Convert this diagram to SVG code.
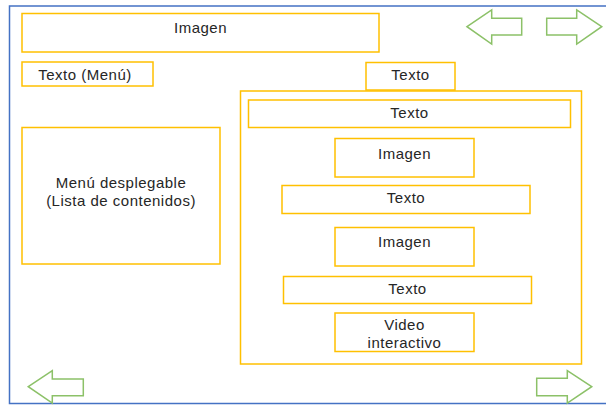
<svg xmlns="http://www.w3.org/2000/svg" width="606" height="405" viewBox="0 0 606 405">
  <style>
    .box { fill: #ffffff; stroke: #FFC000; stroke-width: 1.5; }
    .nav { fill: #ffffff; stroke: #8CC168; stroke-width: 1.5; stroke-linejoin: miter; }
    .lbl { font-family: "Liberation Sans", Arial, sans-serif; font-size: 15px; letter-spacing: 0.5px; fill: #262626; text-anchor: middle; dominant-baseline: central; }
  </style>
  <!-- page frame -->
  <rect x="0" y="0" width="606" height="405" fill="#ffffff"/>
  <rect x="9.5" y="6" width="610" height="397.5" fill="none" stroke="#4472C4" stroke-width="1.5"/>

  <g id="header-image">
    <rect class="box" x="22" y="13.5" width="357" height="38.5"/>
    <text class="lbl" x="200.5" y="27">Imagen</text>
  </g>
  <g id="menu-text">
    <rect class="box" x="22" y="62" width="131" height="24"/>
    <text class="lbl" x="85" y="74">Texto (Menú)</text>
  </g>
  <g id="title-text">
    <rect class="box" x="366" y="62.5" width="89" height="27.5"/>
    <text class="lbl" x="410.5" y="74.5">Texto</text>
  </g>
  <g id="dropdown-menu">
    <rect class="box" x="22" y="127.5" width="198" height="136.5"/>
    <text class="lbl" x="121" y="182">Menú desplegable</text>
    <text class="lbl" x="121" y="200">(Lista de contenidos)</text>
  </g>
  <g id="content-panel">
    <rect class="box" x="240.5" y="91" width="341" height="273"/>
  </g>
  <g id="text-1">
    <rect class="box" x="248.5" y="100" width="322" height="27.5"/>
    <text class="lbl" x="409.5" y="112">Texto</text>
  </g>
  <g id="image-1">
    <rect class="box" x="335" y="138.5" width="139" height="38.5"/>
    <text class="lbl" x="404.5" y="153">Imagen</text>
  </g>
  <g id="text-2">
    <rect class="box" x="282" y="185.5" width="248" height="28"/>
    <text class="lbl" x="406" y="197.5">Texto</text>
  </g>
  <g id="image-2">
    <rect class="box" x="335" y="227.5" width="139" height="38.5"/>
    <text class="lbl" x="404.5" y="241.5">Imagen</text>
  </g>
  <g id="text-3">
    <rect class="box" x="283.5" y="276.5" width="248" height="27"/>
    <text class="lbl" x="407.5" y="288.5">Texto</text>
  </g>
  <g id="video">
    <rect class="box" x="335" y="313" width="139" height="38.5"/>
    <text class="lbl" x="404.5" y="324.5">Video</text>
    <text class="lbl" x="404.5" y="342.5">interactivo</text>
  </g>

  <!-- navigation arrows -->
  <g id="nav-prev-top">
    <polygon class="nav" points="467,26.7 491.7,10 491.7,18.3 521.7,18.3 521.7,35 491.7,35 491.7,44"/>
  </g>
  <g id="nav-next-top">
    <polygon class="nav" points="601.7,26.7 576.7,10 576.7,18.3 546.7,18.3 546.7,35 576.7,35 576.7,44"/>
  </g>
  <g id="nav-prev-bottom">
    <polygon class="nav" points="28.3,386.7 52.3,370.7 52.3,379 83.3,379 83.3,395.7 52.3,395.7 52.3,403"/>
  </g>
  <g id="nav-next-bottom">
    <polygon class="nav" points="591.7,386.7 567.3,370.7 567.3,378.3 536.7,378.3 536.7,395.7 567.3,395.7 567.3,403"/>
  </g>
  <g id="connectors"/>
</svg>
